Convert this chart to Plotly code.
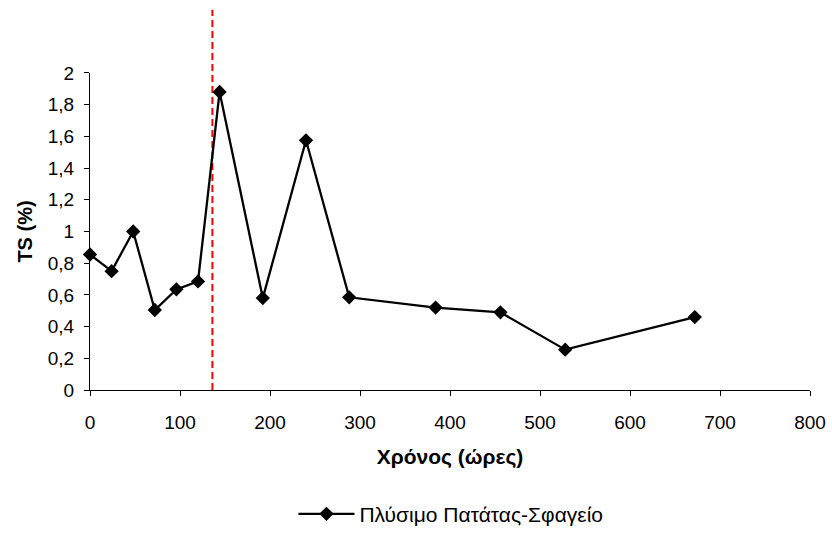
import plotly.graph_objects as go

# Total solids over the run
hours = [0, 24, 48, 72, 96, 120, 144, 192, 240, 288, 384, 456, 528, 672]
ts_percent = [0.855, 0.75, 1.0, 0.505, 0.635, 0.685, 1.88, 0.58, 1.575, 0.585, 0.52, 0.49, 0.255, 0.46]
series_name = "Πλύσιμο Πατάτας-Σφαγείο"

# Time at which the feed changed (dashed marker line)
change_hour = 136

x_range = [0, 800]
y_range = [0, 2]
x_ticks = [0, 100, 200, 300, 400, 500, 600, 700, 800]
x_ticklabels = ["0", "100", "200", "300", "400", "500", "600", "700", "800"]
y_ticks = [0, 0.2, 0.4, 0.6, 0.8, 1.0, 1.2, 1.4, 1.6, 1.8, 2.0]
y_ticklabels = ["0", "0,2", "0,4", "0,6", "0,8", "1", "1,2", "1,4", "1,6", "1,8", "2"]

FONT = "Liberation Sans, Arial, sans-serif"
W, H = 832, 535

# Plot area placement (paper fractions)
x_domain = [90 / W, 810 / W]
y_domain = [(H - 396) / H, (H - 74) / H]

fig = go.Figure()
fig.add_trace(go.Scatter(
    x=hours, y=ts_percent, name=series_name, mode="lines+markers",
    line=dict(color="black", width=2.3),
    marker=dict(symbol="diamond", size=11, color="black"),
    cliponaxis=False,
))

# Vertical dashed line, extending above the plot area
line_x = x_domain[0] + (change_hour - x_range[0]) / (x_range[1] - x_range[0]) * (x_domain[1] - x_domain[0])
fig.add_shape(
    type="line", xref="paper", yref="paper",
    x0=line_x, x1=line_x, y0=y_domain[0], y1=(H - 10) / H,
    line=dict(color="#ff0000", width=2, dash="7px,4px"),
    layer="below",
)

axis_common = dict(
    showgrid=False, zeroline=False, showline=True, linecolor="black", linewidth=1,
    ticks="outside", ticklen=5, tickwidth=1, tickcolor="black",
    tickfont=dict(family=FONT, size=19, color="black"),
    automargin=False,
)

fig.update_xaxes(
    range=x_range, domain=x_domain, tickvals=x_ticks, ticktext=x_ticklabels,
    title=dict(text="<b>Χρόνος (ώρες)</b>", font=dict(family=FONT, size=21, color="black"), standoff=17),
    ticklabelstandoff=10,
    **axis_common,
)
fig.update_yaxes(
    range=y_range, domain=y_domain, tickvals=y_ticks, ticktext=y_ticklabels,
    title=dict(text="<b>TS (%)</b>", font=dict(family=FONT, size=20, color="black"), standoff=9),
    ticklabelstandoff=6,
    **axis_common,
)

fig.update_layout(
    width=W, height=H,
    margin=dict(l=0, r=0, t=0, b=0, pad=0),
    paper_bgcolor="white", plot_bgcolor="white",
    font=dict(family=FONT, size=19, color="black"),
    showlegend=True,
    legend=dict(
        orientation="h", x=0.542, xanchor="center", y=(H - 522) / H, yanchor="middle",
        font=dict(family=FONT, size=21, color="black"),
        bgcolor="rgba(0,0,0,0)",
        itemwidth=56,
    ),
)

fig.write_html("out.html")
